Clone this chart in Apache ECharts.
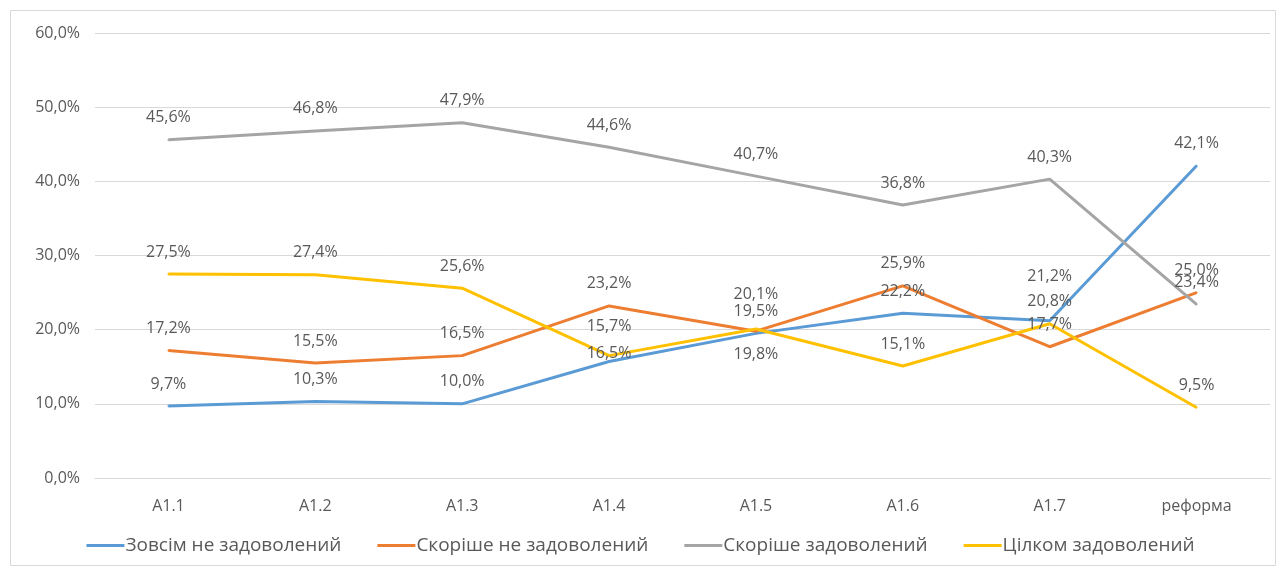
<!DOCTYPE html>
<html>
<head>
<meta charset="utf-8">
<script src="https://cdn.jsdelivr.net/npm/echarts@6/dist/echarts.min.js"></script>
<style>
  html, body { margin: 0; padding: 0; background: #fff; }
  #chart { width: 1281px; height: 572px; }
</style>
</head>
<body>
<div id="chart"></div>
<script>
const categories = ['А1.1', 'А1.2', 'А1.3', 'А1.4', 'А1.5', 'А1.6', 'А1.7', 'реформа']
const seriesNames = ['Зовсім не задоволений', 'Скоріше не задоволений', 'Скоріше задоволений', 'Цілком задоволений']
const notSatisfied = [9.7, 10.3, 10.0, 15.7, 19.5, 22.2, 21.2, 42.1]
const ratherNot = [17.2, 15.5, 16.5, 23.2, 19.8, 25.9, 17.7, 25.0]
const ratherYes = [45.6, 46.8, 47.9, 44.6, 40.7, 36.8, 40.3, 23.4]
const fully = [27.5, 27.4, 25.6, 16.5, 20.1, 15.1, 20.8, 9.5]
const colors = ['#5B9BD5', '#ED7D31', '#A5A5A5', '#FFC000']

// зсув підписів, що перекриваються (як у вихідному графіку), px по вертикалі
const labelShift = [
  { 3: -13, 6: -22 },
  { 4: 45 },
  {},
  { 3: 20, 4: -12 }
]

const fmt = v => v.toFixed(1).replace('.', ',') + '%'
const font = '"Open Sans", "DejaVu Sans", sans-serif'

const myChart = echarts.init(document.getElementById('chart'))

// одна серія на кожну лінію; маркер крихітний і ховається під лінією
const makeSeries = (idx, data) => ({
  name: seriesNames[idx],
  type: 'line',
  data: data,
  symbol: 'circle',
  symbolSize: 2,
  showSymbol: true,
  lineStyle: { width: 3, color: colors[idx] },
  itemStyle: { color: colors[idx] },
  label: {
    show: true,
    position: 'top',
    distance: 13,
    color: '#595959',
    fontSize: 16,
    fontFamily: font,
    formatter: p => fmt(p.value)
  },
  labelLayout: p => ({ dy: labelShift[idx][p.dataIndex] || 0, hideOverlap: false })
})

myChart.setOption({
  animation: false,
  color: colors,
  graphic: [{
    type: 'rect',
    shape: { x: 10.5, y: 10.5, width: 1265, height: 555 },
    style: { fill: 'none', stroke: '#d9d9d9', lineWidth: 1 },
    silent: true
  }],
  grid: { left: 95, right: 11, top: 33, bottom: 94 },
  legend: {
    bottom: 12,
    left: 'center',
    icon: 'rect',
    itemWidth: 38,
    itemHeight: 3,
    itemGap: 36,
    textStyle: { color: '#595959', fontSize: 19, fontFamily: font, padding: [0, 0, 0, -4] },
    data: seriesNames
  },
  xAxis: {
    type: 'category',
    data: categories,
    boundaryGap: true,
    axisLine: { lineStyle: { color: '#d9d9d9' } },
    axisTick: { show: false },
    axisLabel: { color: '#595959', fontSize: 16, fontFamily: font, margin: 20 }
  },
  yAxis: {
    type: 'value',
    min: 0,
    max: 60,
    interval: 10,
    axisLine: { show: false },
    axisTick: { show: false },
    splitLine: { lineStyle: { color: '#d9d9d9' } },
    axisLabel: { color: '#595959', fontSize: 16, fontFamily: font, margin: 15, formatter: v => fmt(v) }
  },
  series: [
    makeSeries(0, notSatisfied),
    makeSeries(1, ratherNot),
    makeSeries(2, ratherYes),
    makeSeries(3, fully)
  ]
})
</script>
</body>
</html>
